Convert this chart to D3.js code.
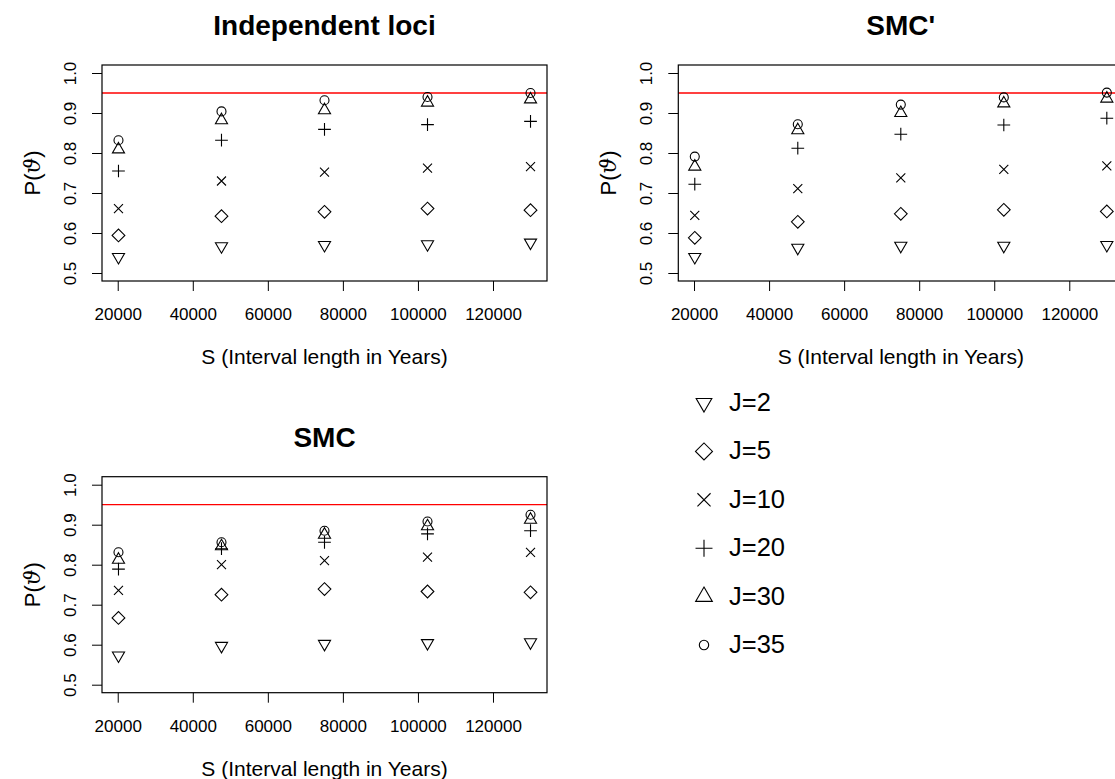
<!DOCTYPE html>
<html>
<head>
<meta charset="utf-8">
<script src="https://cdn.jsdelivr.net/npm/d3@7"></script>
<style>
  html, body { margin: 0; padding: 0; background: #ffffff; }
  svg { display: block; font-family: "Liberation Sans", Arial, Helvetica, sans-serif; }
</style>
</head>
<body>
<svg id="chart" width="1115" height="779"></svg>
<script>
// Interval lengths S (years) shared by every panel
const intervalYears = [20200, 47650, 75100, 102550, 130000];
const xTickValues = [20000, 40000, 60000, 80000, 100000, 120000];
const yTickValues = [0.5, 0.6, 0.7, 0.8, 0.9, 1.0];
const targetLevel = 0.95;

// Number of loci J and the symbol used for each
const lociLabels = ["J=2", "J=5", "J=10", "J=20", "J=30", "J=35"];
const lociShapes = ["triDown", "diamond", "cross", "plus", "triUp", "circle"];

// Coverage probability, one row per J (same order as lociLabels)
const independentLoci = [
  [0.540, 0.567, 0.570, 0.572, 0.576],
  [0.594, 0.642, 0.653, 0.661, 0.657],
  [0.661, 0.730, 0.752, 0.762, 0.766],
  [0.755, 0.832, 0.859, 0.871, 0.879],
  [0.809, 0.882, 0.907, 0.926, 0.934],
  [0.832, 0.904, 0.932, 0.940, 0.950]
];
const smcPrime = [
  [0.540, 0.563, 0.568, 0.568, 0.570],
  [0.588, 0.628, 0.648, 0.658, 0.654],
  [0.644, 0.711, 0.738, 0.759, 0.768],
  [0.722, 0.812, 0.847, 0.870, 0.887],
  [0.766, 0.857, 0.900, 0.924, 0.936],
  [0.791, 0.872, 0.921, 0.939, 0.951]
];
const smc = [
  [0.573, 0.597, 0.602, 0.604, 0.606],
  [0.667, 0.725, 0.739, 0.733, 0.731],
  [0.736, 0.800, 0.810, 0.819, 0.831],
  [0.789, 0.840, 0.856, 0.877, 0.885],
  [0.8125, 0.846, 0.875, 0.896, 0.9125],
  [0.831, 0.856, 0.885, 0.908, 0.925]
];

const panelTitles = ["Independent loci", "SMC'", "SMC"];
const panelData = [independentLoci, smcPrime, smc];
const xTitle = "S (Interval length in Years)";

// Panel boxes (plot region) in pixels
const panelBoxes = [
  { x: 102, y: 65, w: 445, h: 216 },
  { x: 678.3, y: 65, w: 445, h: 216 },
  { x: 102, y: 476.7, w: 445, h: 216 }
];

const svg = d3.select("#chart");

// R-style axis extension: 4% on each side of the data range
function extend(lo, hi) {
  const d = (hi - lo) * 0.04;
  return [lo - d, hi + d];
}
const xDomain = extend(d3.min(intervalYears), d3.max(intervalYears));
const yDomain = [0.48, 1.02];

// Symbol paths, sized like R's pch symbols (s = symbol unit in px)
function symbolPath(shape, x, y, s) {
  const R = 0.375 * s;
  if (shape === "circle") {
    return `M${x + R},${y} A${R},${R} 0 1,1 ${x - R},${y} A${R},${R} 0 1,1 ${x + R},${y} Z`;
  }
  if (shape === "triUp" || shape === "triDown") {
    const r = 1.5551 * R, yc = 0.7776 * R, xh = 1.3468 * R;
    const k = shape === "triUp" ? 1 : -1;
    return `M${x},${y - k * r} L${x + xh},${y + k * yc} L${x - xh},${y + k * yc} Z`;
  }
  if (shape === "plus") {
    const c = Math.SQRT2 * R;
    return `M${x - c},${y} L${x + c},${y} M${x},${y - c} L${x},${y + c}`;
  }
  if (shape === "cross") {
    return `M${x - R},${y - R} L${x + R},${y + R} M${x - R},${y + R} L${x + R},${y - R}`;
  }
  if (shape === "diamond") {
    const c = Math.SQRT2 * R;
    return `M${x - c},${y} L${x},${y - c} L${x + c},${y} L${x},${y + c} Z`;
  }
  return "";
}

panelBoxes.forEach((box, p) => {
  const g = svg.append("g");
  const x = d3.scaleLinear().domain(xDomain).range([box.x, box.x + box.w]);
  const y = d3.scaleLinear().domain(yDomain).range([box.y + box.h, box.y]);

  // x axis ticks and labels
  const xAxis = d3.axisBottom(x).tickValues(xTickValues).tickFormat(d3.format("d"))
    .tickSizeInner(10).tickSizeOuter(0);
  const gx = g.append("g").attr("transform", `translate(0,${box.y + box.h})`).call(xAxis);
  gx.select(".domain").remove();
  gx.selectAll(".tick line").attr("stroke", "#000").attr("stroke-width", 1);
  gx.selectAll(".tick text")
    .attr("y", 39).attr("dy", null)
    .attr("font-size", 17).attr("fill", "#000")
    .attr("font-family", "Liberation Sans, Arial, sans-serif");

  // y axis ticks and rotated labels
  const yAxis = d3.axisLeft(y).tickValues(yTickValues).tickFormat(d3.format(".1f"))
    .tickSizeInner(10).tickSizeOuter(0);
  const gy = g.append("g").attr("transform", `translate(${box.x},0)`).call(yAxis);
  gy.select(".domain").remove();
  gy.selectAll(".tick line").attr("stroke", "#000").attr("stroke-width", 1);
  gy.selectAll(".tick text")
    .attr("x", null).attr("dy", null)
    .attr("text-anchor", "middle")
    .attr("transform", "translate(-26,0) rotate(-90)")
    .attr("font-size", 17).attr("fill", "#000")
    .attr("font-family", "Liberation Sans, Arial, sans-serif");

  // reference level
  g.append("line")
    .attr("x1", box.x).attr("x2", box.x + box.w)
    .attr("y1", y(targetLevel)).attr("y2", y(targetLevel))
    .attr("stroke", "#ff0000").attr("stroke-width", 1.3);

  // points
  panelData[p].forEach((row, j) => {
    g.append("g").selectAll("path")
      .data(row)
      .join("path")
      .attr("d", (v, i) => symbolPath(lociShapes[j], x(intervalYears[i]), y(v), 12))
      .attr("fill", "none").attr("stroke", "#000").attr("stroke-width", 1.1);
  });

  // plot frame
  g.append("rect")
    .attr("x", box.x).attr("y", box.y).attr("width", box.w).attr("height", box.h)
    .attr("fill", "none").attr("stroke", "#000").attr("stroke-width", 1.2);

  // titles
  const cx = box.x + box.w / 2;
  g.append("text")
    .attr("x", cx).attr("y", box.y - 30)
    .attr("text-anchor", "middle").attr("font-size", 28).attr("font-weight", "bold")
    .text(panelTitles[p]);
  g.append("text")
    .attr("x", cx).attr("y", box.y + box.h + 83)
    .attr("text-anchor", "middle").attr("font-size", 21)
    .text(xTitle);
  const ylab = g.append("text")
    .attr("transform", `translate(${box.x - 62},${box.y + box.h / 2}) rotate(-90)`)
    .attr("text-anchor", "middle").attr("font-size", 22);
  ylab.append("tspan").text("P(");
  ylab.append("tspan").attr("font-family", "DejaVu Serif, serif").attr("font-style", "italic").text("ϑ");
  ylab.append("tspan").text(")");
});

// Legend
const legendSizes = {
  triDown: 15.5, diamond: 16, cross: 17.5, plus: 16, triUp: 16.5, circle: 12.5
};
const legend = svg.append("g");
lociLabels.forEach((label, j) => {
  const cy = 403 + j * 48.4;
  legend.append("path")
    .attr("d", symbolPath(lociShapes[j], 704, cy, legendSizes[lociShapes[j]]))
    .attr("fill", "none").attr("stroke", "#000").attr("stroke-width", 1.1);
  legend.append("text")
    .attr("x", 729).attr("y", cy + 8)
    .attr("font-size", 25.5).attr("fill", "#000")
    .text(label);
});
</script>
</body>
</html>
